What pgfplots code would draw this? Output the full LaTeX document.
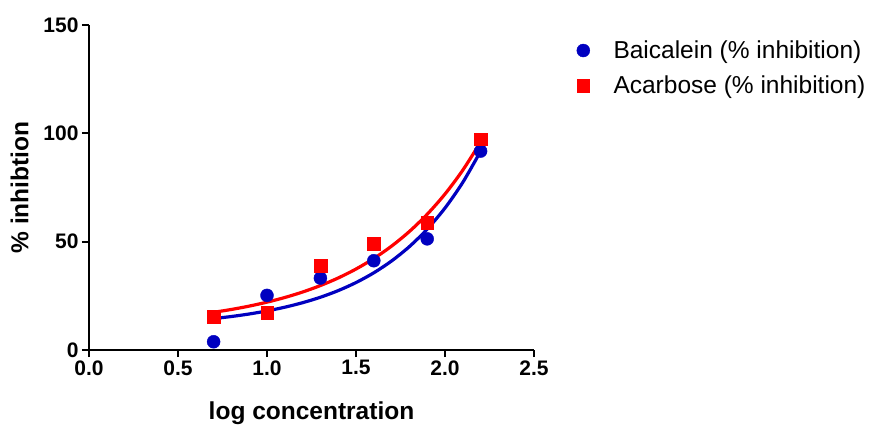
\documentclass[border=0pt]{standalone}
\usepackage{pgfplots}
\pgfplotsset{compat=1.18}
\usepackage{fontspec}
\setmainfont{Liberation Sans}
\definecolor{bblue}{RGB}{0,0,192}
\definecolor{rred}{RGB}{255,0,0}
\begin{document}
\begin{tikzpicture}[x=1pt,y=1pt]
\path[use as bounding box] (0,0) rectangle (869,428);
\begin{axis}[
  at={(89pt,78pt)}, anchor=south west,
  scale only axis, width=445pt, height=325pt,
  xmin=0, xmax=2.5, ymin=0, ymax=150,
  axis lines=left, axis line style={-, line width=2.2pt},
  xtick={0,0.5,1,1.5,2,2.5}, ytick={0,50,100,150},
  xticklabel style={/pgf/number format/.cd, fixed, fixed zerofill, precision=1},
  tick align=outside, major tick length=7pt,
  tick style={line width=2.2pt, black},
  /pgf/number format/assume math mode=true,
  tick label style={font=\fontsize{21}{24}\selectfont\bfseries},
  xlabel={log concentration}, ylabel={\% inhibtion},
  label style={font=\fontsize{24.5}{28}\selectfont\bfseries},
  xlabel style={yshift=-19pt},
  ylabel style={yshift=8pt},
  clip=false,
  legend style={at={(1.089,0.964)}, anchor=north west, draw=none, fill=none,
    font=\fontsize{24.5}{28}\selectfont, row sep=12pt},
  legend image code/.code={\path (0pt,0pt); \draw[#1] plot coordinates {(-28pt,0pt)};},
  legend cell align=left,
]
\addplot[only marks, mark=*, mark size=6.5pt, bblue, mark options={draw=bblue, fill=bblue}]
 coordinates {(0.7,3.8) (1.0,25.2) (1.3,33.2) (1.6,41.2) (1.9,51.3) (2.2,91.8)};
\addlegendentry{Baicalein (\% inhibition)}
\addplot[only marks, mark=square*, mark size=6.3pt, rred, mark options={draw=rred, fill=rred}]
 coordinates {(0.7,15.3) (1.0,17.1) (1.3,39.0) (1.6,49.1) (1.9,58.8) (2.2,97.3)};
\addlegendentry{Acarbose (\% inhibition)}
\addplot[bblue, line width=3.2pt, smooth, forget plot] coordinates {
 (0.7,14.50) (0.8,15.46) (0.9,16.62) (1.0,18.04) (1.1,19.75) (1.2,21.83)
 (1.3,24.35) (1.4,27.41) (1.5,31.12) (1.6,35.63) (1.7,41.10) (1.8,47.73)
 (1.9,55.78) (2.0,65.53) (2.1,77.37) (2.2,91.75)};
\addplot[rred, line width=3.2pt, smooth, forget plot] coordinates {
 (0.7,17.40) (0.8,18.71) (0.9,20.26) (1.0,22.08) (1.1,24.23) (1.2,26.76)
 (1.3,29.74) (1.4,33.24) (1.5,37.37) (1.6,42.23) (1.7,47.96) (1.8,54.70)
 (1.9,62.64) (2.0,71.99) (2.1,83.01) (2.2,95.97)};
\end{axis}
\end{tikzpicture}
\end{document}
